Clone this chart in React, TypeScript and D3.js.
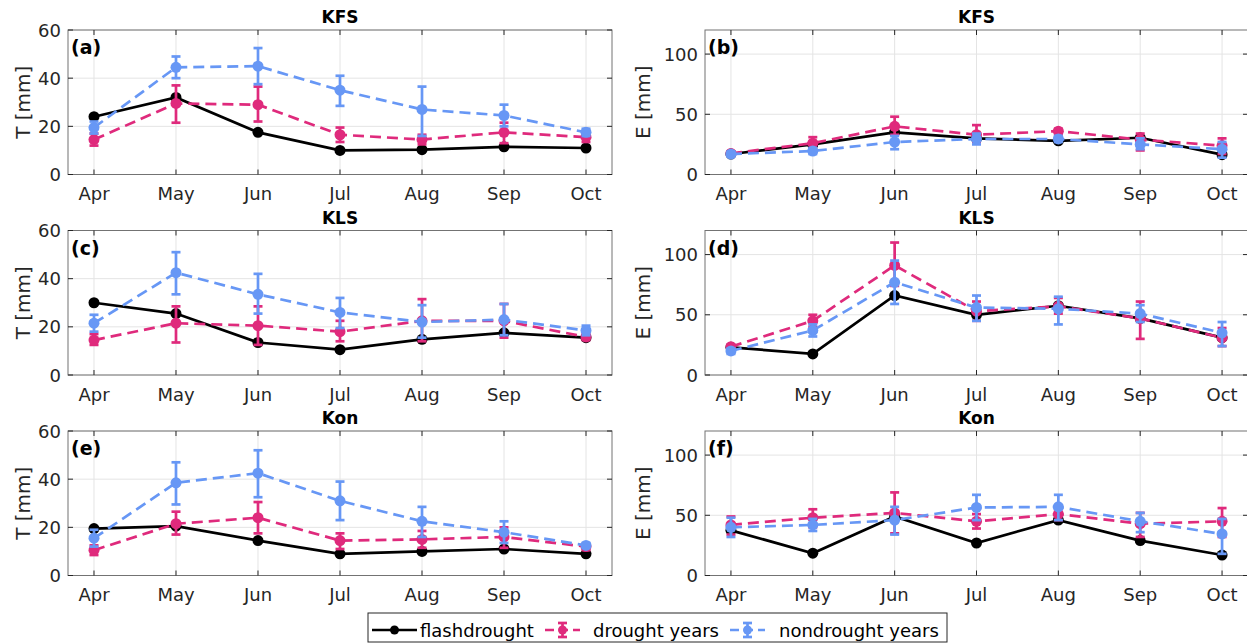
import React from 'react'
import * as d3 from 'd3'

const months = ['Apr', 'May', 'Jun', 'Jul', 'Aug', 'Sep', 'Oct']
const tTicks = [0, 20, 40, 60]
const eTicks = [0, 50, 100]

// (a) KFS transpiration
const kfsTFlash = [24, 32, 17.5, 10, 10.3, 11.5, 11]
const kfsTDrought = [14.5, 29.5, 29, 16.5, 14.5, 17.5, 15.5]
const kfsTDroughtLo = [12, 21.5, 22, 13.5, 12.5, 13, 13.5]
const kfsTDroughtHi = [17, 37, 36.5, 19.5, 16.5, 21.5, 17.5]
const kfsTNon = [19.5, 44.5, 45, 35, 27, 24.5, 17.5]
const kfsTNonLo = [17, 40, 37.5, 28.5, 16, 20, 16]
const kfsTNonHi = [22, 49, 52.5, 41, 36.5, 29, 19]

// (b) KFS evaporation
const kfsEFlash = [17, 25, 35, 30, 28, 30.5, 16.5]
const kfsEDrought = [17.5, 26, 40, 33, 36, 29, 24]
const kfsEDroughtLo = [16, 21, 33, 27, 33, 20, 17]
const kfsEDroughtHi = [19, 31, 48, 41, 38, 34, 30]
const kfsENon = [17, 19.5, 27, 29.5, 29.5, 25, 21]
const kfsENonLo = [15, 17, 21, 25, 27, 21, 14]
const kfsENonHi = [19, 22, 32, 34, 32, 30, 27]

// (c) KLS transpiration
const klsTFlash = [30, 25.5, 13.5, 10.5, 14.8, 17.5, 15.5]
const klsTDrought = [14.5, 21.5, 20.5, 18, 22.5, 22.5, 15.8]
const klsTDroughtLo = [12.5, 13.5, 12.5, 14, 14, 15.5, 14.5]
const klsTDroughtHi = [17, 28.5, 28.5, 22.5, 31.5, 29.5, 17]
const klsTNon = [21.5, 42.5, 33.5, 26, 22, 23, 18.5]
const klsTNonLo = [18, 33.5, 25.5, 19.5, 15.5, 16.5, 16.5]
const klsTNonHi = [25, 51, 42, 32, 29, 29.5, 20.5]

// (d) KLS evaporation
const klsEFlash = [23, 17.5, 66, 50, 57.5, 47, 31]
const klsEDrought = [23.5, 45, 91, 53, 57, 47, 31]
const klsEDroughtLo = [21, 40, 74, 45, 51, 30, 24]
const klsEDroughtHi = [25, 50, 110, 61, 64, 61, 39]
const klsENon = [20, 37, 77, 56, 55, 51, 35]
const klsENonLo = [17.5, 32, 59, 45, 42, 44, 24]
const klsENonHi = [22, 42, 95, 66, 65, 58, 44]

// (e) Kon transpiration
const konTFlash = [19.5, 20.5, 14.5, 9, 10, 11, 9]
const konTDrought = [10.5, 21.5, 24, 14.5, 15, 16, 12]
const konTDroughtLo = [8.5, 17, 17.5, 11, 11.5, 11.5, 10.5]
const konTDroughtHi = [12.5, 26.5, 30.5, 17.5, 18.5, 20, 13]
const konTNon = [15.5, 38.5, 42.5, 31, 22.5, 18, 12.5]
const konTNonLo = [12, 29.5, 32.5, 23, 16, 13.5, 11.5]
const konTNonHi = [19, 47, 52, 39, 28.5, 22.5, 13.5]

// (f) Kon evaporation
const konEFlash = [37.5, 18.5, 49, 27, 46, 29, 17]
const konEDrought = [42, 48, 52, 45, 51, 43, 45]
const konEDroughtLo = [34, 40, 35, 39, 46, 32, 32]
const konEDroughtHi = [49, 55, 69, 51, 56, 52, 56]
const konENon = [40, 42, 46, 56.5, 57, 45, 34.5]
const konENonLo = [32, 37, 34, 46, 46, 36, 18]
const konENonHi = [48, 47, 57, 67, 67, 52, 47]

const BLACK = '#000000'
const PINK = '#DF2A7C'
const BLUE = '#6797F5'
const FONT = 'DejaVu Sans, sans-serif'

const panels = [
  { tag: '(a)', title: 'KFS', ylab: 'T [mm]', ymax: 60, ticks: tTicks, col: 0, row: 0,
    flash: kfsTFlash, dr: kfsTDrought, drLo: kfsTDroughtLo, drHi: kfsTDroughtHi, non: kfsTNon, nonLo: kfsTNonLo, nonHi: kfsTNonHi },
  { tag: '(b)', title: 'KFS', ylab: 'E [mm]', ymax: 120, ticks: eTicks, col: 1, row: 0,
    flash: kfsEFlash, dr: kfsEDrought, drLo: kfsEDroughtLo, drHi: kfsEDroughtHi, non: kfsENon, nonLo: kfsENonLo, nonHi: kfsENonHi },
  { tag: '(c)', title: 'KLS', ylab: 'T [mm]', ymax: 60, ticks: tTicks, col: 0, row: 1,
    flash: klsTFlash, dr: klsTDrought, drLo: klsTDroughtLo, drHi: klsTDroughtHi, non: klsTNon, nonLo: klsTNonLo, nonHi: klsTNonHi },
  { tag: '(d)', title: 'KLS', ylab: 'E [mm]', ymax: 120, ticks: eTicks, col: 1, row: 1,
    flash: klsEFlash, dr: klsEDrought, drLo: klsEDroughtLo, drHi: klsEDroughtHi, non: klsENon, nonLo: klsENonLo, nonHi: klsENonHi },
  { tag: '(e)', title: 'Kon', ylab: 'T [mm]', ymax: 60, ticks: tTicks, col: 0, row: 2,
    flash: konTFlash, dr: konTDrought, drLo: konTDroughtLo, drHi: konTDroughtHi, non: konTNon, nonLo: konTNonLo, nonHi: konTNonHi },
  { tag: '(f)', title: 'Kon', ylab: 'E [mm]', ymax: 120, ticks: eTicks, col: 1, row: 2,
    flash: konEFlash, dr: konEDrought, drLo: konEDroughtLo, drHi: konEDroughtHi, non: konENon, nonLo: konENonLo, nonHi: konENonHi },
]

const colX = [[68, 612], [705, 1248]]
const rowTop = [30, 230.5, 431]
const plotH = 144.5
const yLabX = [23, 643]

function ErrBar({ x, lo, hi, color }: any) {
  const c = 4.5
  return (
    <g stroke={color} strokeWidth={2.7}>
      <line x1={x} x2={x} y1={lo} y2={hi} />
      <line x1={x - c} x2={x + c} y1={lo} y2={lo} />
      <line x1={x - c} x2={x + c} y1={hi} y2={hi} />
    </g>
  )
}

function Panel({ p }: any) {
  const [x0, x1] = colX[p.col]
  const top = rowTop[p.row]
  const bot = top + plotH
  const x = d3.scalePoint<string>().domain(months).range([x0, x1]).padding(0.317)
  const y = d3.scaleLinear().domain([0, p.ymax]).range([bot, top])
  const line = d3.line<number>().x((d, i) => x(months[i])!).y(d => y(d))

  const series = [
    { v: p.flash, color: BLACK, dash: null, lo: null, hi: null },
    { v: p.dr, color: PINK, dash: '11,6', lo: p.drLo, hi: p.drHi },
    { v: p.non, color: BLUE, dash: '11,6', lo: p.nonLo, hi: p.nonHi },
  ]

  return (
    <g>
      {/* grid */}
      {months.map(m => (
        <line key={'gx' + m} x1={x(m)} x2={x(m)} y1={top} y2={bot} stroke="#e4e4e4" strokeWidth={1} />
      ))}
      {p.ticks.map((t: number) => (
        <line key={'gy' + t} x1={x0} x2={x1} y1={y(t)} y2={y(t)} stroke="#e4e4e4" strokeWidth={1} />
      ))}
      {/* series */}
      {series.map((s, si) => (
        <g key={si}>
          <path d={line(s.v)!} fill="none" stroke={s.color} strokeWidth={2.7}
            strokeDasharray={s.dash || undefined} />
          {s.lo && s.v.map((d: number, i: number) => (
            <ErrBar key={i} x={x(months[i])} lo={y(s.lo[i])} hi={y(s.hi[i])} color={s.color} />
          ))}
          {s.v.map((d: number, i: number) => (
            <circle key={'m' + i} cx={x(months[i])} cy={y(d)} r={5.5} fill={s.color} />
          ))}
        </g>
      ))}
      {/* box */}
      <rect x={x0} y={top} width={x1 - x0} height={plotH} fill="none" stroke="#737373" strokeWidth={1} />
      {/* ticks */}
      {months.map(m => (
        <g key={'tx' + m} stroke="#262626" strokeWidth={1}>
          <line x1={x(m)} x2={x(m)} y1={bot} y2={bot - 5} />
          <line x1={x(m)} x2={x(m)} y1={top} y2={top + 5} />
        </g>
      ))}
      {p.ticks.map((t: number) => (
        <g key={'ty' + t} stroke="#262626" strokeWidth={1}>
          <line x1={x0} x2={x0 + 5} y1={y(t)} y2={y(t)} />
          <line x1={x1} x2={x1 - 5} y1={y(t)} y2={y(t)} />
        </g>
      ))}
      {months.map(m => (
        <text key={'lx' + m} x={x(m)} y={bot + 19} textAnchor="middle" dominantBaseline="central"
          fontFamily={FONT} fontSize={18} fill="#262626">{m}</text>
      ))}
      {p.ticks.map((t: number) => (
        <text key={'ly' + t} x={x0 - 7} y={y(t)} textAnchor="end" dominantBaseline="central"
          fontFamily={FONT} fontSize={18} fill="#262626">{t}</text>
      ))}
      <text transform={`translate(${yLabX[p.col]},${(top + bot) / 2}) rotate(-90)`} textAnchor="middle"
        dominantBaseline="central" fontFamily={FONT} fontSize={20} fill="#262626">{p.ylab}</text>
      <text x={(x0 + x1) / 2} y={top - 13} textAnchor="middle" dominantBaseline="central"
        fontFamily={FONT} fontSize={17} fontWeight="bold" fill="#000">{p.title}</text>
      <text x={x0 + 3} y={top + 17} dominantBaseline="central"
        fontFamily={FONT} fontSize={19} fontWeight="bold" fill="#000">{p.tag}</text>
    </g>
  )
}

const legendItems = [
  { label: 'flashdrought', color: BLACK, dash: null, err: false, x0: 372, x1: 417, tx: 420 },
  { label: 'drought years', color: PINK, dash: '9,5', err: true, x0: 545, x1: 580, tx: 593 },
  { label: 'nondrought years', color: BLUE, dash: '9,5', err: true, x0: 730, x1: 765, tx: 779 },
]

export default function App() {
  const ly = 630
  return (
    <svg width={1247} height={643} style={{ position: 'absolute', left: 0, top: 0, background: '#fff' }}>
      <rect width={1247} height={643} fill="#fff" />
      {panels.map(p => <Panel key={p.tag} p={p} />)}
      <rect x={368} y={613} width={579} height={29} fill="#fff" stroke="#262626" strokeWidth={1} />
      {legendItems.map(it => {
        const cx = (it.x0 + it.x1) / 2
        return (
          <g key={it.label}>
            <line x1={it.x0} x2={it.x1} y1={ly} y2={ly} stroke={it.color} strokeWidth={2.7}
              strokeDasharray={it.dash || undefined} />
            {it.err && <ErrBar x={cx} lo={ly + 7} hi={ly - 7} color={it.color} />}
            <circle cx={cx} cy={ly} r={4.5} fill={it.color} />
            <text x={it.tx} y={ly} dominantBaseline="central" fontFamily={FONT} fontSize={18} fill="#000">{it.label}</text>
          </g>
        )
      })}
    </svg>
  )
}
